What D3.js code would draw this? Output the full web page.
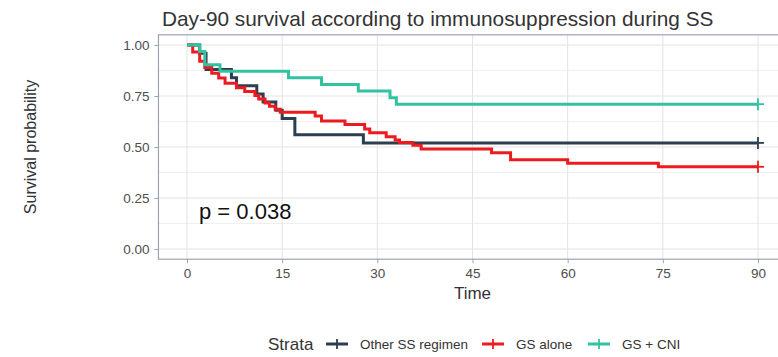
<!DOCTYPE html>
<html>
<head>
<meta charset="utf-8">
<script src="https://cdn.jsdelivr.net/npm/d3@7"></script>
<style>
  body { margin: 0; background: #fff; }
  text { font-family: "Liberation Sans", Arial, sans-serif; }
</style>
</head>
<body>
<div id="chart_div"></div>
<script>
// values
var timeTicks = [0, 15, 30, 45, 60, 75, 90];
var survTicks = [0, 0.25, 0.5, 0.75, 1];
var survMinor = [0.125, 0.375, 0.625, 0.875];
var strataNames = ["Other SS regimen", "GS alone", "GS + CNI"];
var strataColors = ["#2c3e50", "#ec1b1f", "#33c29f"];

var otherTime = [0, 2, 3, 7, 7.8, 11, 12, 14, 15, 17, 27.8, 90];
var otherSurv = [1, 0.96, 0.88, 0.84, 0.80, 0.76, 0.72, 0.68, 0.64, 0.56, 0.52, 0.52];

var aloneTime = [0, 0.9, 2, 2.8, 3.9, 5, 6, 7.8, 9.1, 10.7, 11.3, 12.3, 13, 13.9, 14.7, 20.2, 21.2,
                 24.9, 28, 28.8, 31.4, 32.8, 33.5, 35.6, 36.9, 48, 51, 60, 74.3, 90];
var aloneSurv = [1, 0.966, 0.92, 0.89, 0.862, 0.838, 0.812, 0.79, 0.772, 0.752, 0.735, 0.716, 0.70,
                 0.685, 0.67, 0.652, 0.628, 0.61, 0.588, 0.57, 0.55, 0.534, 0.522, 0.508, 0.49,
                 0.472, 0.438, 0.42, 0.403, 0.403];

var cniTime = [0, 2, 2.8, 5.2, 16, 21.2, 27, 32, 33, 90];
var cniSurv = [1, 0.968, 0.903, 0.871, 0.839, 0.806, 0.774, 0.742, 0.71, 0.71];

var pLabel = "p = 0.038";

var width = 778, height = 357;

var svg = d3.select("#chart_div").append("svg")
    .attr("width", width)
    .attr("height", height);

var x = d3.scaleLinear().domain([0, 90]).range([187, 758]);
var y = d3.scaleLinear().domain([0, 1]).range([249, 45]);

var panel = {left: x(-4.5), right: x(94.5), top: y(1.05), bottom: y(-0.05)};

// grid
svg.selectAll(".minor")
    .data(survMinor)
    .enter().append("line")
    .attr("x1", panel.left).attr("x2", panel.right)
    .attr("y1", function (d) { return y(d); })
    .attr("y2", function (d) { return y(d); })
    .attr("stroke", "#ebebeb")
    .attr("stroke-width", 0.8);

svg.selectAll(".hgrid")
    .data(survTicks)
    .enter().append("line")
    .attr("x1", panel.left).attr("x2", panel.right)
    .attr("y1", function (d) { return y(d); })
    .attr("y2", function (d) { return y(d); })
    .attr("stroke", "#e3e3e3")
    .attr("stroke-width", 1);

svg.selectAll(".vgrid")
    .data(timeTicks)
    .enter().append("line")
    .attr("y1", panel.top).attr("y2", panel.bottom)
    .attr("x1", function (d) { return x(d); })
    .attr("x2", function (d) { return x(d); })
    .attr("stroke", "#e3e3e3")
    .attr("stroke-width", 1);

// panel border
svg.append("rect")
    .attr("x", panel.left)
    .attr("y", panel.top)
    .attr("width", panel.right - panel.left)
    .attr("height", panel.bottom - panel.top)
    .attr("fill", "none")
    .attr("stroke", "#9ba4ae")
    .attr("stroke-width", 1.2);

// axes
var xAxis = svg.append("g")
    .attr("transform", "translate(0," + panel.bottom + ")")
    .call(d3.axisBottom(x).tickValues(timeTicks).tickSize(4).tickPadding(5));
var yAxis = svg.append("g")
    .attr("transform", "translate(" + panel.left + ",0)")
    .call(d3.axisLeft(y).tickValues(survTicks).tickFormat(d3.format(".2f")).tickSize(4).tickPadding(5));

[xAxis, yAxis].forEach(function (g) {
    g.select(".domain").remove();
    g.selectAll(".tick line").attr("stroke", "#9ba4ae");
    g.selectAll(".tick text")
        .style("font-size", "13.5px")
        .attr("fill", "#4d4d4d");
});

// curves
var series = [
    {time: otherTime, surv: otherSurv},
    {time: aloneTime, surv: aloneSurv},
    {time: cniTime, surv: cniSurv}
];

var line = d3.line()
    .x(function (d) { return x(d[0]); })
    .y(function (d) { return y(d[1]); })
    .curve(d3.curveStepAfter);

series.forEach(function (s, i) {
    var pts = s.time.map(function (t, j) { return [t, s.surv[j]]; });
    svg.append("path")
        .attr("d", line(pts))
        .attr("fill", "none")
        .attr("stroke", strataColors[i])
        .attr("stroke-width", 3);
    // censor mark at the end
    var last = pts[pts.length - 1];
    addPlus(svg, x(last[0]), y(last[1]), strataColors[i], 6);
});

function addPlus(g, cx, cy, color, r) {
    g.append("line")
        .attr("x1", cx - r).attr("x2", cx + r)
        .attr("y1", cy).attr("y2", cy)
        .attr("stroke", color).attr("stroke-width", 1.8);
    g.append("line")
        .attr("x1", cx).attr("x2", cx)
        .attr("y1", cy - r).attr("y2", cy + r)
        .attr("stroke", color).attr("stroke-width", 1.8);
}

// p-value
svg.append("text")
    .attr("x", 199)
    .attr("y", 219)
    .style("font-size", "22px")
    .attr("fill", "#111")
    .text(pLabel);

// titles
svg.append("text")
    .attr("x", 162)
    .attr("y", 26)
    .style("font-size", "20.8px")
    .attr("fill", "#333")
    .text("Day-90 survival according to immunosuppression during SS");

svg.append("text")
    .attr("x", x(45))
    .attr("y", 299)
    .attr("text-anchor", "middle")
    .style("font-size", "17px")
    .attr("fill", "#333")
    .text("Time");

svg.append("text")
    .attr("transform", "translate(36," + y(0.5) + ") rotate(-90)")
    .attr("text-anchor", "middle")
    .style("font-size", "16px")
    .attr("fill", "#333")
    .text("Survival probability");

// legend
var legendY = 344;
svg.append("text")
    .attr("x", 268)
    .attr("y", legendY + 6)
    .style("font-size", "17px")
    .attr("fill", "#333")
    .text("Strata");

var keyX = [326, 482, 588];
strataNames.forEach(function (name, i) {
    svg.append("line")
        .attr("x1", keyX[i]).attr("x2", keyX[i] + 22)
        .attr("y1", legendY).attr("y2", legendY)
        .attr("stroke", strataColors[i])
        .attr("stroke-width", 3);
    addPlus(svg, keyX[i] + 11, legendY, strataColors[i], 5);
    svg.append("text")
        .attr("x", keyX[i] + 34)
        .attr("y", legendY + 5)
        .style("font-size", "13.5px")
        .attr("fill", "#333")
        .text(name);
});
</script>
</body>
</html>
